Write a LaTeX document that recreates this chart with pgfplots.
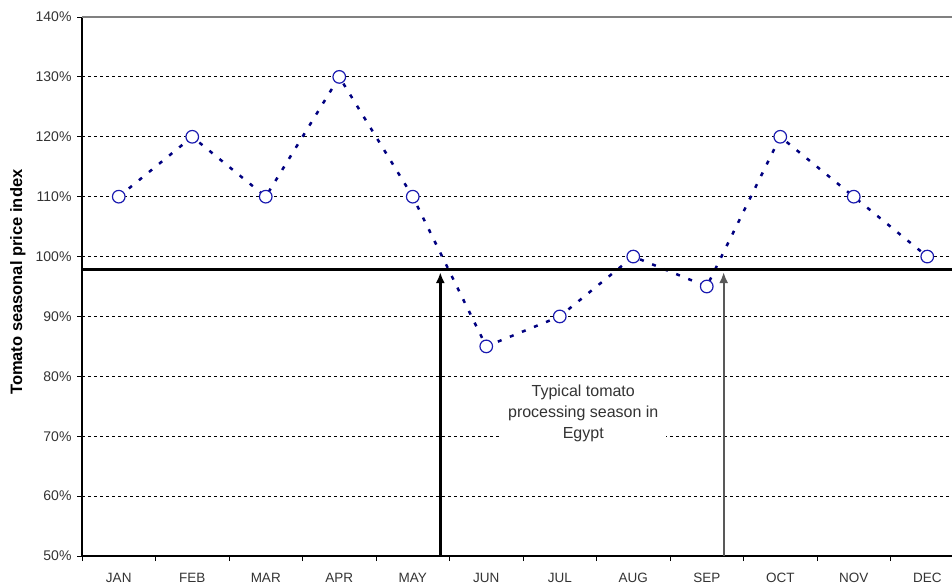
\documentclass[border=0pt]{standalone}
\usepackage{fontspec}
\setmainfont{Liberation Sans}
\usepackage{pgfplots}
\pgfplotsset{compat=1.18}
\usetikzlibrary{arrows.meta}

\definecolor{navyline}{HTML}{000080}
\definecolor{markblue}{HTML}{1A1AB0}
\definecolor{ticktext}{HTML}{333333}

\begin{document}
\begin{tikzpicture}
\begin{axis}[
  at={(82pt,31pt)}, anchor=south west,
  scale only axis,
  width=882pt, height=539pt,
  xmin=-0.5, xmax=11.5,
  ymin=50, ymax=140,
  axis lines=left,
  axis line style={-, black, line width=1.2pt},
  % month boundaries carry the tick marks, names sit in between
  xtick={-0.5,0.5,...,11.5},
  xticklabels={},
  extra x ticks={0,1,...,11},
  extra x tick labels={JAN,FEB,MAR,APR,MAY,JUN,JUL,AUG,SEP,OCT,NOV,DEC},
  extra x tick style={major tick length=0pt, grid=none},
  xticklabel style={font=\fontsize{13.5}{15}\selectfont, text=ticktext, yshift=-14pt},
  ytick={50,60,...,140},
  yticklabel={\pgfmathprintnumber{\tick}\%},
  /pgf/number format/assume math mode=true,
  yticklabel style={font=\fontsize{14}{16}\selectfont, text=ticktext, xshift=-2pt},
  tick align=outside,
  major tick length=5pt,
  tick style={black, line width=1pt},
  ymajorgrids,
  grid style={black, line width=0.8pt, dash pattern=on 3pt off 3pt},
  ylabel={Tomato seasonal price index},
  every axis y label/.style={at={(axis description cs:-0.0726,0.508)}, rotate=90, anchor=center,
    font=\bfseries\fontsize{16.5}{18}\selectfont},
  clip=false,
]
% plot frame top
\draw[gray, line width=1.5pt] (rel axis cs:0,1) -- (rel axis cs:1,1);

% seasonal index
\addplot[navyline, line width=2.5pt, dash pattern=on 4pt off 9pt,
  mark=*, mark size=6.3pt,
  mark options={solid, draw=markblue, fill=white, line width=1.2pt}]
  coordinates {
    (0,110) (1,120) (2,110) (3,130) (4,110) (5,85)
    (6,90) (7,100) (8,95) (9,120) (10,110) (11,100)
  };

% reference level
\addplot[black, line width=3.5pt, forget plot] coordinates {(-0.49,97.8) (11.5,97.8)};

% processing season
\draw[black, line width=2.5pt, -{Latex[length=11pt,width=9pt]}]
  (axis cs:4.375,50) -- (axis cs:4.375,97.4);
\draw[black!65, line width=2pt, -{Latex[length=11pt,width=9pt]}]
  (axis cs:8.23,50) -- (axis cs:8.23,97.4);

\node[fill=white, align=center, inner xsep=8pt, inner ysep=3pt,
  font=\fontsize{16}{21}\selectfont, text=ticktext]
  at (axis cs:6.32,73.9) {Typical tomato\\processing season in\\Egypt};
\end{axis}
\pgfresetboundingbox
\path[use as bounding box] (0,0) rectangle (952pt,587pt);
\end{tikzpicture}
\end{document}
